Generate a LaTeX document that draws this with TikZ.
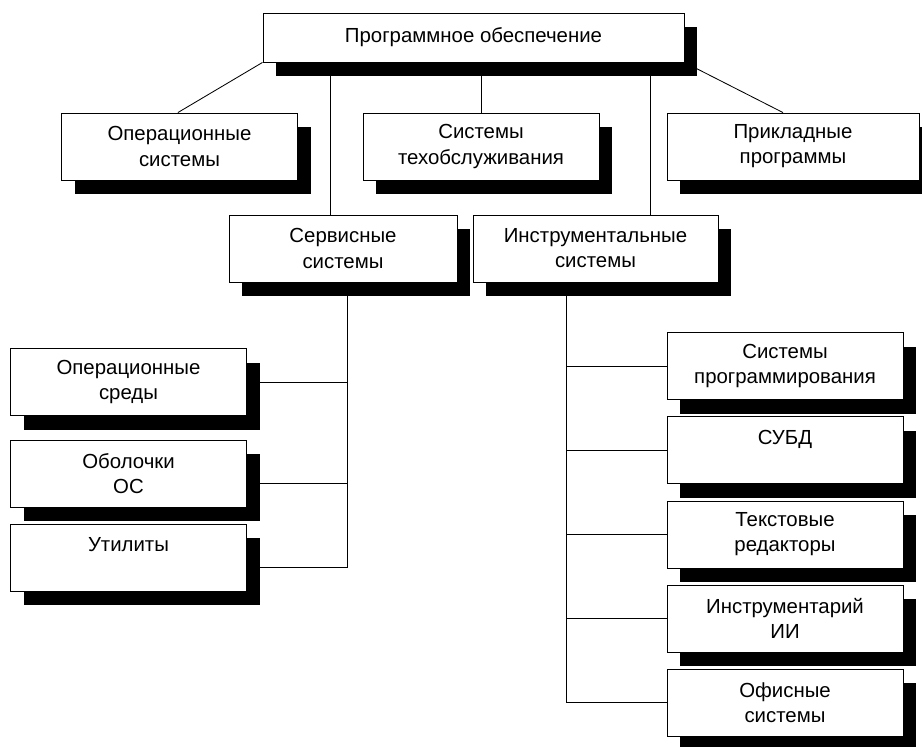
\documentclass[tikz,border=0pt]{standalone}
\usepackage{fontspec}
\setmainfont{Liberation Sans}
\usetikzlibrary{shadows}

\begin{document}
\begin{tikzpicture}
		[
		x=0.025cm, y=-0.025cm,
		line width=0.6pt,
		box/.style={draw, fill=white, align=center, inner sep=0pt,
			font=\fontsize{14.5}{17.8}\selectfont,
			minimum width=5.9cm, minimum height=1.675cm,
			drop shadow={shadow xshift=0.33cm, shadow yshift=-0.36cm, fill=black, opacity=1}}
		]
		\useasboundingbox (0,0) rectangle (922,747);
		\node[box, minimum width=10.525cm, minimum height=1.225cm] (po) at (473.5,37.5) {Программное обеспечение};
		\node[box] (os) at (179.5,146.5) {Операционные\\системы};
		\node[box] (tech) at (481,146.5) {Системы\\техобслуживания};
		\node[box, minimum width=6.3cm] (appl) at (793,146.5) {Прикладные\\программы};
		\node[box, minimum width=5.7cm] (serv) at (343,248.5) {Сервисные\\системы};
		\node[box, minimum width=6.125cm] (instr) at (595.5,248.5) {Инструментальные\\системы};
		\node[box] (env) at (128.5,382) {Операционные\\среды};
		\node[box] (shell) at (128.5,473.5) {Оболочки\\ОС};
		\node[box] (util) at (128.5,557.5) {Утилиты\\\mbox{}};
		\node[box] (prog) at (785,366) {Системы\\программирования};
		\node[box] (dbms) at (785,450) {СУБД\\\mbox{}};
		\node[box] (edit) at (785,534.5) {Текстовые\\редакторы};
		\node[box] (ai) at (785,618.5) {Инструментарий\\ИИ};
		\node[box] (office) at (785,702.5) {Офисные\\системы};

		\draw (po.south west) -- ([xshift=-0.04cm]os.north);
		\draw (po.south east) -- ([xshift=-0.25cm]appl.north);
		\draw (tech.north) -- (tech.north |- po.south);
		\draw ([xshift=-0.325cm]serv.north) -- ([xshift=-0.325cm]serv.north |- po.south);
		\draw ([xshift=1.3625cm]instr.north) -- ([xshift=1.3625cm]instr.north |- po.south);

		\coordinate (svbus) at ([xshift=0.1cm]serv.south);
		\coordinate (shelljoin) at ([yshift=-0.26cm]shell.east);
		\coordinate (utiljoin) at ([yshift=-0.26cm]util.east);
		\draw (svbus) -- (svbus |- utiljoin) -- (utiljoin);
		\draw (env.east) -- (env.east -| svbus);
		\draw (shelljoin) -- (shelljoin -| svbus);

		\coordinate (inbus) at ([xshift=-0.7375cm]instr.south);
		\draw (inbus) -- (inbus |- office.west) -- (office.west);
		\draw (prog.west) -- (prog.west -| inbus);
		\draw (dbms.west) -- (dbms.west -| inbus);
		\draw (edit.west) -- (edit.west -| inbus);
		\draw (ai.west) -- (ai.west -| inbus);
\end{tikzpicture}
\end{document}
